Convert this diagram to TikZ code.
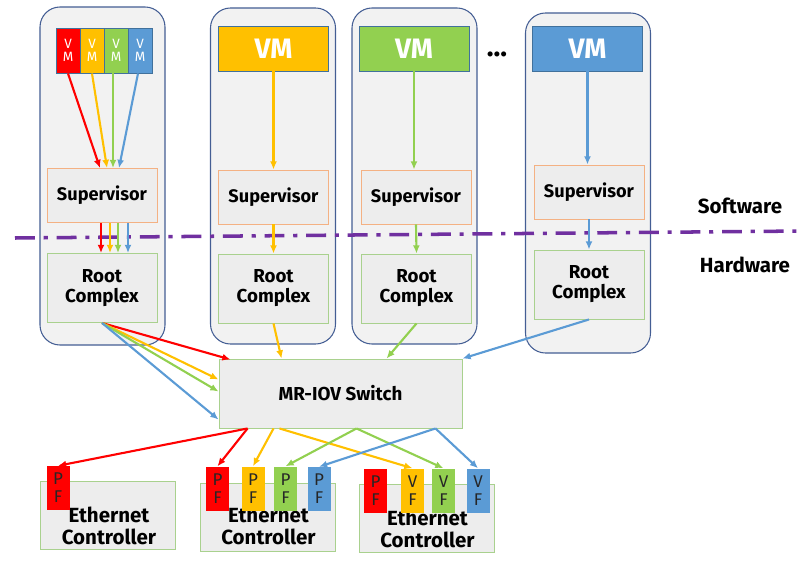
\documentclass[tikz,border=0pt]{standalone}
\usepackage{fontspec}
\setmainfont{Fira Sans}
\usepackage{xcolor}
\usepackage{tikz}
\usetikzlibrary{arrows.meta,calc}
\definecolor{vmred}{RGB}{255, 0, 0}
\definecolor{vmyellow}{RGB}{255, 192, 0}
\definecolor{vmgreen}{RGB}{146, 208, 80}
\definecolor{vmblue}{RGB}{91, 155, 213}
\definecolor{hostline}{RGB}{68, 94, 148}
\definecolor{hostfill}{RGB}{242, 242, 242}
\definecolor{boxfill}{RGB}{237, 237, 237}
\definecolor{swline}{RGB}{244, 177, 131}
\definecolor{hwline}{RGB}{169, 209, 142}
\definecolor{vmline}{RGB}{65, 113, 156}
\definecolor{divider}{RGB}{112, 48, 160}

\begin{document}
\begin{tikzpicture}[x=0.03cm, y=-0.03cm,
        host/.style = {draw=hostline, fill=hostfill, line width=0.9pt, rounded corners=6mm, minimum width=3.75cm},
        vmbox/.style = {draw=vmline, line width=0.8pt, text=white, inner sep=0pt, minimum width=3.3cm, minimum height=1.35cm, font=\bfseries\fontsize{24}{24}\selectfont},
        vmslot/.style = {draw=vmline, line width=0.8pt, text=white, inner sep=0pt, minimum width=0.72cm, minimum height=1.35cm, align=center, font=\fontsize{11.5}{11.5}\selectfont},
        supbox/.style = {draw=swline, fill=boxfill, line width=0.8pt, inner sep=0pt, minimum width=3.3cm, minimum height=1.62cm, font=\bfseries\fontsize{15.5}{17}\selectfont},
        rcbox/.style = {draw=hwline, fill=boxfill, line width=0.8pt, inner sep=0pt, minimum width=3.3cm, minimum height=2.07cm, align=center, font=\bfseries\fontsize{16}{17}\selectfont},
        ecbox/.style = {draw=hwline, fill=boxfill, line width=0.8pt, inner sep=0pt, minimum width=4.05cm, minimum height=2.04cm},
        fnbox/.style = {inner sep=0pt, minimum width=0.69cm, minimum height=1.32cm, align=center, text=black!85, font=\fontsize{14.5}{15.5}\selectfont},
        tag/.style = {font=\bfseries\fontsize{17.5}{19}\selectfont, align=center},
        wire/.style = {-{Latex[length=7pt,width=6pt]}, line width=1.8pt}]
    \useasboundingbox (0,0) rectangle (809,562);
    % hosts
    \node[host, minimum height=10.14cm] (host1) at (102.5,176) {};
    \node[host, minimum height=10.08cm] (host2) at (273,176) {};
    \node[host, minimum height=10.08cm] (host3) at (414.5,176) {};
    \node[host, minimum height=10.2cm] (host4) at (588,183) {};
    % virtual machines
    \node[vmslot, fill=vmred] (vm1a) at (68,50.5) {V\\M};
    \node[vmslot, fill=vmyellow] (vm1b) at (92,50.5) {V\\M};
    \node[vmslot, fill=vmgreen] (vm1c) at (116,50.5) {V\\M};
    \node[vmslot, fill=vmblue] (vm1d) at (140,50.5) {V\\M};
    \node[vmbox, fill=vmyellow] (vm2) at (273.5,48.5) {VM};
    \node[vmbox, fill=vmgreen] (vm3) at (414,48.5) {VM};
    \node[vmbox, fill=vmblue] (vm4) at (587.5,48.5) {VM};
    \node[font=\bfseries\fontsize{24}{24}\selectfont, anchor=base] (more) at (497,57) {...};
    % supervisors and root complexes
    \node[supbox] (sup1) at (102,195.5) {Supervisor};
    \node[supbox] (sup2) at (273.5,197) {Supervisor};
    \node[supbox] (sup3) at (416,197) {Supervisor};
    \node[supbox] (sup4) at (589,192) {Supervisor};
    \node[rcbox] (rc1) at (102,288) {Root\\Complex};
    \node[rcbox] (rc2) at (273.5,288.5) {Root\\Complex};
    \node[rcbox] (rc3) at (416.5,288.5) {Root\\Complex};
    \node[rcbox] (rc4) at (589,284.5) {Root\\Complex};
    \node[rcbox, minimum width=7.29cm] (mriov) at (340.5,393.5) {MR-IOV Switch};
    % software / hardware border
    \coordinate (divl) at (15,238);
    \coordinate (divr) at (805,231);
    \draw[divider, line width=3pt, dash pattern=on 17pt off 7.5pt on 3.5pt off 7.5pt] (divl) -- (divr);
    \node[tag] (swtext) at (740,206) {Software};
    \node[tag] (hwtext) at (745,265) {Hardware};
    % ethernet controllers
    \node[ecbox] (ec1) at (108,515) {};
    \node[ecbox] (ec2) at (267.5,517) {};
    \node[ecbox] (ec3) at (426.5,518) {};
    \node[tag] (ec1text) at ($(ec1.center)+(1,11)$) {Ethernet\\Controller};
    \node[tag] (ec2text) at ($(ec2.center)+(1,9)$) {Ethernet\\Controller};
    \node[tag] (ec3text) at ($(ec3.center)+(1,11)$) {Ethernet\\Controller};
    \node[fnbox, fill=vmred] (pf1) at (58,488) {P\\F};
    \node[fnbox, fill=vmred] (pf2a) at (217.5,488.5) {P\\F};
    \node[fnbox, fill=vmyellow] (pf2b) at (253,488.5) {P\\F};
    \node[fnbox, fill=vmgreen] (pf2c) at (285.5,488.5) {P\\F};
    \node[fnbox, fill=vmblue] (pf2d) at (319,489) {P\\F};
    \node[fnbox, fill=vmred] (pf3) at (375.5,490.5) {P\\F};
    \node[fnbox, fill=vmyellow] (vf3b) at (412.5,490.5) {V\\F};
    \node[fnbox, fill=vmgreen] (vf3c) at (443.5,490.5) {V\\F};
    \node[fnbox, fill=vmblue] (vf3d) at (478,490.5) {V\\F};
    % host 1
    \draw[wire, vmred] (vm1a.south) -- ($(sup1.north)+(-2,0)$);
    \draw[wire, vmyellow] (vm1b.south) -- ($(sup1.north)+(5,0)$);
    \draw[wire, vmgreen] ($(vm1c.south)+(-3,0)$) -- ($(sup1.north)+(11,0)$);
    \draw[wire, vmblue] ($(vm1d.south)+(-2,0)$) -- ($(sup1.north)+(17,0)$);
    \draw[wire, vmred] ($(sup1.south)+(-1,0)$) -- ($(rc1.north)+(-1,0)$);
    \draw[wire, vmyellow] ($(sup1.south)+(8,0)$) -- ($(rc1.north)+(8,0)$);
    \draw[wire, vmgreen] ($(sup1.south)+(16,0)$) -- ($(rc1.north)+(16,0)$);
    \draw[wire, vmblue] ($(sup1.south)+(26,0)$) -- ($(rc1.north)+(26,0)$);
    \draw[wire, vmred] (rc1.south) -- ($(mriov.north west)+(12,1)$);
    \draw[wire, vmyellow] (rc1.south) -- ($(mriov.north west)+(0,21)$);
    \draw[wire, vmgreen] (rc1.south) -- ($(mriov.north west)+(0,33)$);
    \draw[wire, vmblue] (rc1.south) -- ($(mriov.north west)+(0,61)$);
    % hosts 2 to 4
    \draw[wire, vmyellow] (vm2.south) -- (sup2.north);
    \draw[wire, vmyellow] (sup2.south) -- (rc2.north);
    \draw[wire, vmyellow] (rc2.south) -- ($(mriov.north west)+(63,0)$);
    \draw[wire, vmgreen] (vm3.south) -- (vm3.south |- sup3.north);
    \draw[wire, vmgreen] (sup3.south) -- (rc3.north);
    \draw[wire, vmgreen] (rc3.south) -- ($(mriov.north west)+(168,0)$);
    \draw[wire, vmblue] (vm4.south) -- (vm4.south |- sup4.north);
    \draw[wire, vmblue] (sup4.south) -- (rc4.north);
    \draw[wire, vmblue] (rc4.south) -- (mriov.north east);
    % switch to functions
    \draw[wire, vmred] ($(mriov.south west)+(29,0)$) -- (pf1.north);
    \draw[wire, vmred] ($(mriov.south west)+(29,0)$) -- (pf2a.north);
    \draw[wire, vmyellow] ($(mriov.south west)+(55,0)$) -- (pf2b.north);
    \draw[wire, vmyellow] ($(mriov.south west)+(61,0)$) -- (vf3b.north);
    \draw[wire, vmgreen] ($(mriov.south west)+(138,0)$) -- (pf2c.north);
    \draw[wire, vmgreen] ($(mriov.south west)+(138,0)$) -- (vf3c.north);
    \draw[wire, vmblue] ($(mriov.south west)+(217,0)$) -- (pf2d.north);
    \draw[wire, vmblue] ($(mriov.south west)+(217,0)$) -- (vf3d.north);
\end{tikzpicture}
\end{document}
